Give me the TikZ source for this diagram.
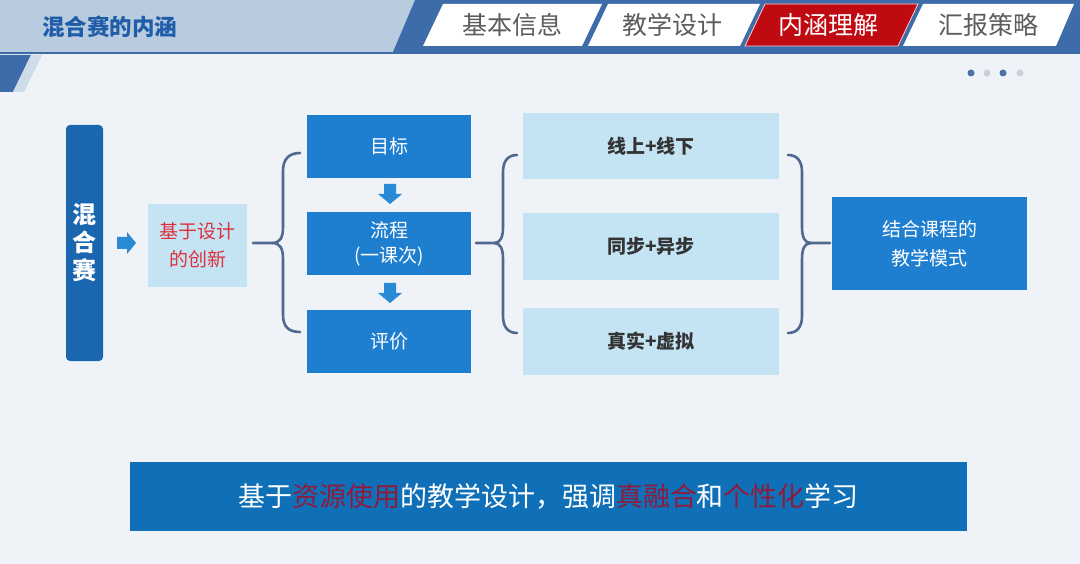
\documentclass[tikz,border=0pt]{standalone}
\usepackage{fontspec}
\setmainfont{Noto Sans CJK SC}
\definecolor{bg}{HTML}{EFF3F8}
\definecolor{hdr}{HTML}{B9CBDF}
\definecolor{hdrline}{HTML}{3F6BA7}
\definecolor{band}{HTML}{3E6CA9}
\definecolor{tabtxt}{HTML}{5C5C5C}
\definecolor{tabred}{HTML}{C00A12}
\definecolor{ttl}{HTML}{1F5DA8}
\definecolor{dotd}{HTML}{4F6FA8}
\definecolor{dotl}{HTML}{C6D0DE}
\definecolor{barblue}{HTML}{1A66AF}
\definecolor{boxblue}{HTML}{1E7FD0}
\definecolor{lightbox}{HTML}{C4E4F4}
\definecolor{arrc}{HTML}{2A8AD6}
\definecolor{brc}{HTML}{51698E}
\definecolor{redtxt}{HTML}{E0303C}
\definecolor{banner}{HTML}{1070B7}
\definecolor{dred}{HTML}{8E1B3B}
\definecolor{darktxt}{HTML}{333333}
\begin{document}
\begin{tikzpicture}[x=1pt,y=-1pt,
  tabtext/.style={font=\fontsize{25}{28}\selectfont, text=tabtxt, inner sep=0},
  bluebox/.style={fill=boxblue, text=white, minimum width=164pt, minimum height=63pt, inner sep=0, align=center, font=\fontsize{19}{25}\selectfont},
  lbox/.style={fill=lightbox, text=darktxt, minimum width=256pt, minimum height=66pt, inner sep=0, font=\fontsize{19}{24}\selectfont\bfseries},
  bracestyle/.style={draw=brc, line width=2.6pt, line cap=round, line join=round},
  rarrow/.pic={\fill[arrc] (-9,-6)--(1,-6)--(1,-11)--(10,0)--(1,11)--(1,6)--(-9,6)--cycle;},
  darrow/.pic={\fill[arrc] (-6,-10)--(6,-10)--(6,0)--(12,0)--(0,10)--(-12,0)--(-6,0)--cycle;}
]
\useasboundingbox (0,0) rectangle (1080,564);
\fill[bg] (0,0) rectangle (1080,564);
% header
\fill[hdr] (0,0) rectangle (1080,52);
\draw[hdrline, line width=2pt] (0,53) -- (1080,53);
\node[anchor=west, text=ttl, font=\fontsize{22.5}{26}\selectfont\bfseries, inner sep=0] (title) at (42,27) {混合赛的内涵};
\fill[band] (0,55) -- (31,55) -- (13,92) -- (0,92) -- cycle;
\fill[hdr!70!white] (31,55) -- (42,55) -- (24,92) -- (13,92) -- cycle;
% tabs
\fill[band] (415,0) -- (1080,0) -- (1080,52) -- (393,52) -- cycle;
\fill[white] (443,4) -- (602,4) -- (582,46) -- (423,46) -- cycle;
\fill[white] (608,4) -- (760,4) -- (740,46) -- (588,46) -- cycle;
\fill[tabred, draw=white!80!red, line width=0.8pt] (765,4) -- (918,4) -- (898,46) -- (745,46) -- cycle;
\fill[white] (923,4) -- (1074,4) -- (1056,46) -- (903,46) -- cycle;
\node[tabtext] (t1) at (512,25) {基本信息};
\node[tabtext] (t2) at (672,25) {教学设计};
\node[tabtext, text=white] (t3) at (828,25) {内涵理解};
\node[tabtext] (t4) at (988,25) {汇报策略};
% dots
\fill[dotd] (971,73) circle (3.5);
\fill[dotl] (987,73) circle (3.5);
\fill[dotd] (1003,73) circle (3.5);
\fill[dotl] (1020,73) circle (3.5);
% left bar
\node[fill=barblue, rounded corners=4pt, minimum width=37pt, minimum height=236pt, inner sep=0, text=white, align=center, font=\fontsize{24}{28}\selectfont\bfseries] (mix) at (84.5,243) {混\\合\\赛};
\pic at (126,243) {rarrow};
\node[fill=lightbox, minimum width=99pt, minimum height=83pt, inner sep=0, text=redtxt, align=center, font=\fontsize{19}{28}\selectfont] (jy) at (197.5,245.5) {基于设计\\的创新};
% column 2
\node[bluebox] (mb) at (389,146.5) {目标};
\node[bluebox] (lc) at (389,243.5) {流程\\(一课次)};
\node[bluebox] (pj) at (389,341.5) {评价};
\pic at (390,194) {darrow};
\pic at (390,293) {darrow};
% column 3
\node[lbox] (c1) at (651,146) {线上+线下};
\node[lbox, minimum height=67pt] (c2) at (651,246.5) {同步+异步};
\node[lbox, minimum height=67pt] (c3) at (651,341.5) {真实+虚拟};
% right box
\node[fill=boxblue, minimum width=195pt, minimum height=93pt, inner sep=0, text=white, align=center, font=\fontsize{19}{29}\selectfont] (jh) at (929.5,243.5) {结合课程的\\教学模式};
% braces
\coordinate (b1s) at (253,243);
\draw[bracestyle] (300,153) .. controls (289,153) and (283,159) .. (283,171) -- (283,227) .. controls (283,238) and (280,243) .. (272,243) -- (b1s);
\draw[bracestyle] (272,243) .. controls (280,243) and (283,248) .. (283,259) -- (283,315) .. controls (283,327) and (289,332) .. (300,332);
\coordinate (b2s) at (476,243);
\draw[bracestyle] (517,155) .. controls (508,155) and (503,161) .. (503,172) -- (503,227) .. controls (503,238) and (500,243) .. (494,243) -- (b2s);
\draw[bracestyle] (494,243) .. controls (500,243) and (503,248) .. (503,259) -- (503,316) .. controls (503,327) and (508,333) .. (517,333);
\coordinate (b3s) at (830,243);
\draw[bracestyle] (788,155) .. controls (797,155) and (802,161) .. (802,172) -- (802,227) .. controls (802,238) and (805,243) .. (811,243) -- (b3s);
\draw[bracestyle] (811,243) .. controls (805,243) and (802,248) .. (802,259) -- (802,316) .. controls (802,327) and (797,333) .. (788,333);
% banner
\node[fill=banner, minimum width=837pt, minimum height=69pt, inner sep=0, text=white, font=\fontsize{27}{30}\selectfont] (ban) at (548.5,496.5) {基于\textcolor{dred}{资源使用}的教学设计，强调\textcolor{dred}{真融合}和\textcolor{dred}{个性化}学习};
\end{tikzpicture}
\end{document}
